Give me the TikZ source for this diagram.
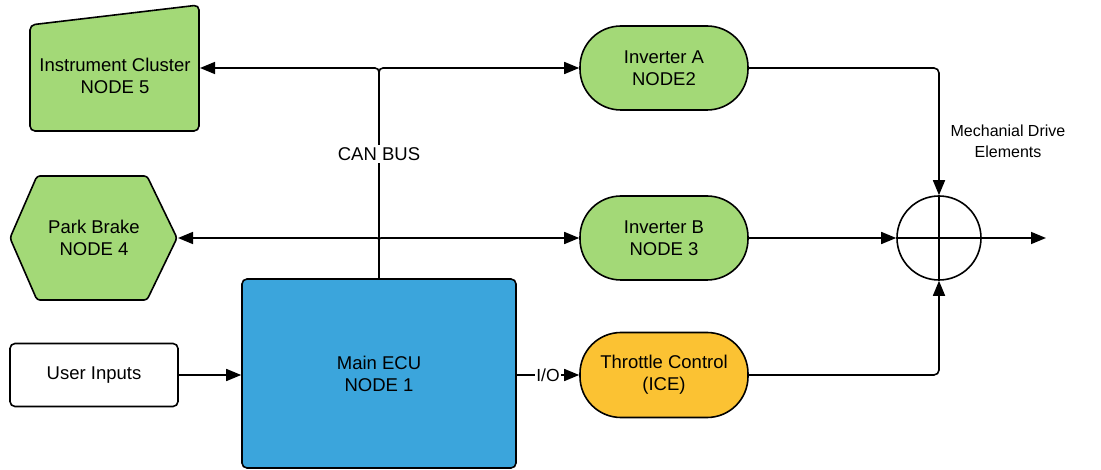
\documentclass[tikz,border=0pt]{standalone}
\usepackage{fontspec}
\setmainfont{Liberation Sans}
\usetikzlibrary{arrows.meta}

\definecolor{nodegreen}{HTML}{A3D977}
\definecolor{ecublue}{HTML}{3BA5DC}
\definecolor{iceorange}{HTML}{FBC233}

\tikzset{
  box/.style={draw=black, line width=1.6pt, align=center,
    font=\fontsize{18.5}{22}\selectfont},
  stadium/.style={box, rectangle, rounded corners=41pt,
    minimum width=168pt, minimum height=84pt},
  lbl/.style={align=center, inner sep=1pt, font=\fontsize{18.5}{22}\selectfont},
  wire/.style={line width=1.6pt},
  arr/.style={wire, -{Triangle[length=15pt,width=12pt]}},
}

\begin{document}
\begin{tikzpicture}[x=1pt, y=-1pt]
  \useasboundingbox (0,0) rectangle (1101,470);

  % Instrument cluster: trapezoid with a slanted top edge
  \draw[line width=1.6pt, fill=nodegreen, rounded corners=5pt]
    (30,25) -- (199,5) -- (199,131) -- (30,131) -- cycle;
  \node[lbl] (ic) at (115,76) {Instrument Cluster\\NODE 5};
  \coordinate (icE) at (200,68);

  % Park brake: hexagon
  \draw[line width=1.6pt, fill=nodegreen, rounded corners=3pt]
    (10,238) -- (37,176) -- (147,176) -- (177,238) -- (147,300) -- (37,300) -- cycle;
  \node[lbl] (pb) at (94,238) {Park Brake\\NODE 4};
  \coordinate (pbE) at (178,238);

  % Plain rectangular blocks
  \node[box, rounded corners=5pt, fill=white, minimum width=168pt, minimum height=63pt]
    (ui) at (94,375) {User Inputs};
  \node[box, rounded corners=5pt, fill=ecublue, minimum width=274pt, minimum height=189pt]
    (ecu) at (379,373.5) {Main ECU\\NODE 1};

  % Stadium-shaped actuator nodes
  \node[stadium, fill=nodegreen] (invA) at (664,68) {Inverter A\\NODE2};
  \node[stadium, fill=nodegreen] (invB) at (664,238) {Inverter B\\NODE 3};
  \node[stadium, fill=iceorange, minimum height=85pt] (thr) at (664,375) {Throttle Control\\(ICE)};

  % Summing junction for the mechanical drive
  \node[draw, circle, line width=1.6pt, minimum size=84pt, inner sep=0pt] (sum) at (939,238) {};
  \draw[wire] (sum.north) -- (sum.south);
  \draw[wire] (sum.west) -- (sum.east);
  \coordinate (out) at (1046,238);
  \node[align=center, font=\fontsize{16}{21}\selectfont] (mde) at (1008,141)
    {Mechanial Drive\\Elements};

  % CAN bus trunk and its branches
  \draw[arr, rounded corners=4pt] (ecu.north) |- (icE);
  \draw[arr, rounded corners=4pt] (ecu.north) |- (invA.west);
  \draw[arr, rounded corners=2pt] (ecu.north) |- (pbE);
  \draw[arr, rounded corners=2pt] (ecu.north) |- (invB.west);
  \node[lbl, fill=white, inner sep=2pt] (can) at (379,154) {CAN BUS};

  % User inputs and I/O
  \draw[arr] (ui.east) -- (ui.east -| ecu.west);
  \draw[arr] (thr.west -| ecu.east) -- node[fill=white, inner sep=1pt,
      font=\fontsize{17.5}{20}\selectfont] (io) {I/O} (thr.west);

  % Drive paths into the junction
  \draw[arr, rounded corners=5pt] (invA.east) -| (sum.north);
  \draw[arr] (invB.east) -- (sum.west);
  \draw[arr, rounded corners=5pt] (thr.east) -| (sum.south);
  \draw[arr] (sum.east) -- (out);
\end{tikzpicture}
\end{document}
